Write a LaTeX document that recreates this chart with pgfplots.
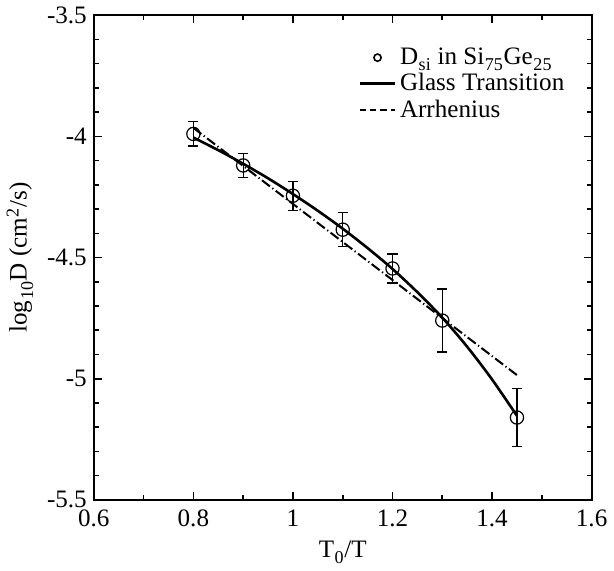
\documentclass[border=0pt]{standalone}
\usepackage{fontspec}
\setmainfont{Liberation Serif}
\usepackage{pgfplots}
\pgfplotsset{compat=1.18}
\newcommand\sub[1]{\kern0.3pt\raisebox{-0.55ex}{\fontsize{9}{9}\selectfont #1}\kern0.3pt}
\newcommand\super[1]{\kern0.3pt\raisebox{0.7ex}{\fontsize{9}{9}\selectfont #1}\kern0.3pt}

\begin{document}
\begin{tikzpicture}
\begin{axis}[
    width=248pt, height=241.5pt, scale only axis,
    xmin=0.6, xmax=1.6, ymin=-5.5, ymax=-3.5,
    xtick={0.6,0.8,1,1.2,1.4,1.6}, minor x tick num=1,
    ytick={-5.5,-5,-4.5,-4,-3.5}, minor y tick num=4,
    tick align=inside,
    major tick length=4pt, minor tick length=2.5pt,
    every tick/.style={black, line width=0.8pt},
    axis line style={line width=1pt},
    /pgf/number format/assume math mode=true,
    tick label style={font=\fontsize{12.5}{14}\selectfont},
    x tick label style={yshift=-1.5pt},
    label style={font=\fontsize{12.5}{14}\selectfont},
    xlabel={T\sub{0}/T},
    ylabel={log\sub{10}D (cm\super{2}/s)},
    legend style={draw=none, fill=none, at={(axis description cs:0.52,0.95)},
        anchor=north west, font=\fontsize{12.5}{14}\selectfont, row sep=-1pt},
    legend cell align=left,
]
    % measured diffusivity with error bars
    \addplot[only marks, mark=o, mark size=3.3pt, mark options={line width=0.6pt}, forget plot,
        error bars/.cd, y dir=both, y explicit,
        error bar style={line width=0.6pt},
        error mark options={rotate=90, mark size=2.5pt, line width=0.6pt}]
        table[x=x, y=y, y error=e] {
        x     y      e
        0.8   -3.99  0.05
        0.9   -4.12  0.05
        1.0   -4.245 0.06
        1.1   -4.385 0.07
        1.2   -4.545 0.06
        1.3   -4.76  0.13
        1.45  -5.16  0.12
    };
    % glass transition fit
    \addplot[black, line width=1.3pt, smooth, forget plot] coordinates {
        (0.80,-4.005) (0.85,-4.057) (0.90,-4.113) (0.95,-4.173)
        (1.00,-4.238) (1.05,-4.307) (1.10,-4.381) (1.15,-4.461)
        (1.20,-4.547) (1.25,-4.643) (1.30,-4.748) (1.35,-4.868)
        (1.40,-5.003) (1.45,-5.153)
    };
    % arrhenius fit
    \addplot[black, line width=1pt, dash pattern=on 5pt off 1.5pt on 0.6pt off 1.5pt, forget plot]
        coordinates {(0.8,-3.965) (1.45,-4.985)};
    \addlegendimage{only marks, mark=o, mark size=1.8pt, mark options={line width=0.8pt}}
    \addlegendentry{D\sub{si}\ in Si\sub{75}Ge\sub{25}}
    \addlegendimage{black, line width=1.3pt}
    \addlegendentry{Glass Transition}
    \addlegendimage{black, line width=0.8pt, dash pattern=on 3pt off 2pt}
    \addlegendentry{Arrhenius}
\end{axis}
\end{tikzpicture}
\end{document}
